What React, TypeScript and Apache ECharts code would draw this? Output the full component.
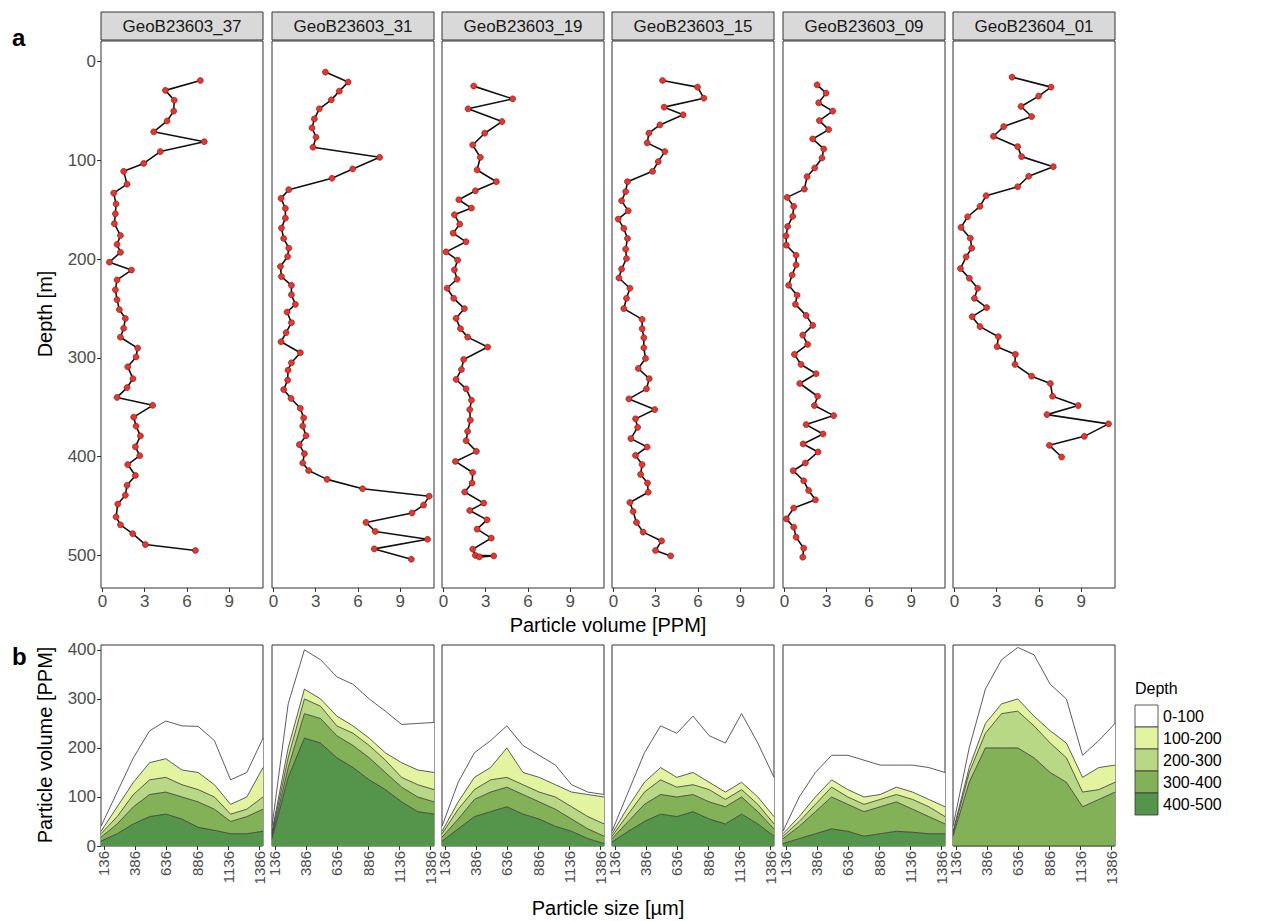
import React, { useEffect, useRef } from 'react';
import * as echarts from 'echarts';

const STATIONS = ['GeoB23603_37', 'GeoB23603_31', 'GeoB23603_19', 'GeoB23603_15', 'GeoB23603_09', 'GeoB23604_01'];
const VOLUME_TICKS = [0, 3, 6, 9];
const DEPTH_TICKS = [0, 100, 200, 300, 400, 500];
const SIZE_TICKS = [136, 386, 636, 886, 1136, 1386];
const PSD_TICKS = [0, 100, 200, 300, 400];
const DEPTH_BINS = ['0-100', '100-200', '200-300', '300-400', '400-500'];
const BIN_COLORS = ['#ffffff', '#e2f4a0', '#b9d886', '#82b157', '#55954b'];

// Profiles: depth [m] and particle volume [PPM]
const DEPTH_37 = [19,29,39,50,60,71,81,91,103,111,124,133,144,154,164,176,185,193,203,211,221,231,241,251,260,270,279,290,299,309,321,330,340,348,360,369,379,390,399,408,419,429,439,448,461,469,478,489,495];
const PPM_37 = [6.95,4.47,5.1,5.06,4.59,3.64,7.23,4.11,2.93,1.51,1.75,0.8,0.97,0.92,0.85,1.28,1.04,1.28,0.5,2.06,1.04,0.92,1.04,1.2,1.63,1.51,1.28,2.5,2.39,1.8,2.17,1.75,1.04,3.57,2.22,2.39,2.7,2.34,2.65,1.8,2.34,1.75,1.63,1.09,0.97,1.28,2.15,3.05,6.6];

const DEPTH_31 = [10.5,20.6,29.8,38.6,47.7,57.9,67,76.5,86.6,96.8,108.6,118,129.6,138.4,148.5,158.4,168.5,179,188.8,197.3,207.4,217.6,226.4,236,245.7,253.5,264.3,274.4,283.6,294.7,304.9,312.4,322.5,332,341,351,360.7,369,378.7,387.8,397,406.4,414,423,432.5,440,449,457,466.6,475.8,483.6,493.4,503.9];
const PPM_31 = [3.69,5.3,4.68,4.11,3.26,2.91,2.74,3.03,2.81,7.54,5.63,4.16,1.09,0.54,0.85,0.85,0.57,0.73,1.09,1.01,0.5,0.57,1.28,1.28,1.56,0.97,1.28,0.9,0.54,1.91,1.28,1.04,1.01,0.73,1.25,1.91,2.15,2.08,2.32,1.84,2.2,2.08,2.5,3.81,6.33,11.06,10.66,9.84,6.57,7.23,10.94,7.16,9.79];

const DEPTH_19 = [24.7,37.6,47.7,60.6,72.4,84.3,96.8,109.6,121.5,130.7,139.8,148.2,155,164.5,173.6,182.4,192.6,201,210.8,220.3,229.4,239.6,250,259.9,270.4,278.9,289,301.5,311.7,321.8,331.3,342.8,352.3,363,374.3,383.8,394.6,404.8,416,426.7,435.8,447,454.5,464,473.4,482.5,493.7,500,500.5,501.5];
const PPM_19 = [2.15,4.92,1.75,4.16,2.93,2.08,2.62,2.39,3.76,2.27,1.09,1.99,0.78,1.16,0.69,1.61,0.19,1.01,0.78,0.97,0.26,0.73,1.49,0.9,1.21,1.72,3.14,1.44,1.28,0.9,1.61,1.99,1.87,1.91,1.72,1.61,2.34,0.85,2.08,2.04,1.51,2.86,1.87,3.1,2.39,3.4,2.08,2.27,3.57,2.55];

const DEPTH_15 = [19,25.7,36.9,46,53.8,64,72.4,82.2,91,101.2,111,121.5,131.6,140.8,151,159.4,168.8,179,189.8,199.3,210,219,229.4,239.6,250,261,270.4,279.5,289.7,300.5,310.7,321,331.3,341.5,352.3,361.7,370.3,381.7,390.2,398.7,408,418,426.7,436,446.4,455.5,466.6,476.4,485.3,495,500.5];
const PPM_15 = [3.49,5.97,6.42,3.6,4.95,3.3,2.52,2.4,3.65,3.18,2.78,1.0,0.87,0.58,1.05,0.34,0.74,1.0,0.87,0.93,0.58,0.39,1.17,0.93,0.74,2.04,2.04,2.16,2.16,2.28,1.76,2.54,2.35,1.1,2.94,1.57,1.72,1.24,2.4,1.57,2.04,1.93,2.42,2.47,1.17,1.4,1.64,2.11,3.42,2.99,4.06];

const DEPTH_09 = [23.4,31.8,41.6,50,59.6,68.7,78.2,88.3,97.5,107.6,116.4,129,137.4,146.5,156.6,166.8,176.3,185.8,196,205.8,216,226.4,236.5,245.7,256.9,267,276.8,286.3,296.4,306.6,316,325.9,338.8,348.2,358.4,367.5,377,387.1,395.2,406.4,414.2,424.4,434.2,443.7,452,463,471.4,481.5,492.7,501.8];
const PPM_09 = [2.32,2.96,2.43,3.43,2.48,3.14,2.01,2.79,2.67,2.15,1.61,1.42,0.19,0.66,0.59,0.23,0.12,0.14,0.83,0.83,0.55,0.3,0.9,0.78,1.54,2.01,1.3,1.65,0.71,1.18,2.25,1.09,2.36,2.13,3.5,1.54,2.74,1.33,2.39,1.49,0.62,1.37,1.72,2.2,0.66,0.14,0.66,0.83,1.37,1.3];

const DEPTH_01 = [15.6,25.7,34.8,45.3,55.5,65.7,75.5,86,96.1,106.3,116,126.6,135.7,146.5,157,167.8,178.7,188.8,197.6,209.5,219.3,229.4,239.6,249,258.2,268.3,278.5,288.6,296.4,306.6,318.5,325.9,338.8,348.2,357.4,366.8,379.4,388.5,400.3];
const PPM_01 = [4.09,6.86,5.98,4.73,5.48,3.5,2.77,4.49,4.77,7.02,5.27,4.49,2.25,1.82,0.94,0.47,1.13,1.23,0.83,0.43,1.06,1.65,1.42,2.29,1.26,1.82,3.12,3.03,4.33,4.3,5.48,6.81,6.97,8.79,6.57,10.94,9.22,6.74,7.61];

const PROFILE_DEPTHS = [DEPTH_37, DEPTH_31, DEPTH_19, DEPTH_15, DEPTH_09, DEPTH_01];
const PROFILE_PPM = [PPM_37, PPM_31, PPM_19, PPM_15, PPM_09, PPM_01];

// Particle size distribution: size classes [µm] and volume [PPM] per depth bin (0-100 ... 400-500)
const SIZES = [112, 243, 374, 504, 635, 765, 896, 1026, 1157, 1287, 1418];

const PSD_37 = [
  [10, 30, 50, 65, 77, 90, 94, 90, 50, 50, 60],
  [5, 20, 25, 35, 38, 30, 35, 25, 20, 25, 60],
  [7, 15, 25, 30, 30, 25, 25, 25, 15, 15, 25],
  [8, 20, 35, 45, 45, 45, 52, 43, 25, 35, 45],
  [10, 25, 45, 60, 65, 55, 38, 32, 25, 25, 30],
];
const PSD_31 = [
  [10, 90, 80, 80, 80, 85, 80, 85, 78, 95, 102],
  [5, 20, 20, 15, 20, 15, 15, 15, 30, 30, 35],
  [5, 20, 30, 25, 20, 25, 25, 25, 20, 25, 25],
  [5, 20, 50, 50, 45, 45, 45, 35, 30, 30, 25],
  [15, 140, 220, 210, 180, 160, 135, 115, 90, 70, 65],
];
const PSD_19 = [
  [10, 40, 50, 55, 45, 55, 45, 40, 15, 5, 5],
  [5, 15, 25, 25, 60, 25, 30, 25, 30, 45, 55],
  [7, 20, 20, 25, 20, 20, 20, 25, 25, 25, 25],
  [8, 20, 35, 40, 40, 40, 35, 35, 25, 20, 15],
  [10, 35, 60, 70, 80, 65, 55, 40, 30, 15, 5],
];
const PSD_15 = [
  [5, 30, 60, 85, 90, 115, 95, 100, 140, 110, 80],
  [5, 15, 20, 25, 20, 25, 15, 15, 15, 15, 15],
  [5, 15, 25, 30, 20, 20, 25, 15, 15, 15, 10],
  [7, 20, 35, 40, 40, 35, 35, 35, 35, 25, 15],
  [8, 30, 50, 65, 60, 70, 55, 45, 65, 45, 20],
];
const PSD_09 = [
  [5, 40, 50, 50, 70, 75, 60, 45, 55, 65, 70],
  [5, 10, 15, 15, 15, 15, 10, 15, 15, 15, 20],
  [5, 10, 15, 20, 15, 15, 15, 15, 20, 20, 15],
  [10, 25, 45, 65, 55, 50, 55, 60, 47, 35, 20],
  [5, 15, 25, 35, 30, 20, 25, 30, 28, 25, 25],
];
const PSD_01 = [
  [10, 40, 70, 90, 105, 125, 95, 90, 45, 55, 85],
  [5, 10, 20, 20, 25, 20, 25, 30, 30, 45, 35],
  [5, 20, 30, 70, 75, 65, 60, 50, 30, 20, 20],
  [20, 130, 200, 200, 200, 180, 150, 130, 80, 95, 110],
  [0, 0, 0, 0, 0, 0, 0, 0, 0, 0, 0],
];
const PSD = [PSD_37, PSD_31, PSD_19, PSD_15, PSD_09, PSD_01];

const FONT = '"Liberation Sans", Arial, Helvetica, sans-serif';
const LEFTS = [101, 272, 442, 612, 783, 953];
const PW = 162;

export default function App() {
  const ref = useRef<HTMLDivElement>(null);
  useEffect(() => {
    if (!ref.current) return;
    const chart = echarts.init(ref.current, undefined, { renderer: 'svg' });
    const grid: any[] = [];
    const xAxis: any[] = [];
    const yAxis: any[] = [];
    const series: any[] = [];
    const graphic: any[] = [];
    const labelStyle = { fontFamily: FONT, color: '#4d4d4d' };
    const tickStyle = { lineStyle: { color: '#333', width: 1 }, length: 4 };
    const noLine = { show: false, onZero: false };
    const fmt = (v: number) => String(v);

    // top: depth profiles
    for (let i = 0; i < 6; i++) {
      grid.push({ left: LEFTS[i], top: 41, width: PW, height: 547, show: true, borderColor: '#333', borderWidth: 1, backgroundColor: '#fff' });
      xAxis.push({
        type: 'value', gridIndex: i, min: -0.1, max: 11.4, position: 'bottom',
        splitLine: { show: false }, axisLine: noLine,
        axisTick: { show: true, ...tickStyle, customValues: VOLUME_TICKS },
        axisLabel: { ...labelStyle, fontSize: 17, margin: 5, formatter: fmt, customValues: VOLUME_TICKS },
      });
      yAxis.push({
        type: 'value', gridIndex: i, inverse: true, min: -21, max: 533, position: 'left',
        splitLine: { show: false }, axisLine: noLine,
        axisTick: { show: i === 0, ...tickStyle, customValues: DEPTH_TICKS },
        axisLabel: { show: i === 0, ...labelStyle, fontSize: 17, margin: 5, formatter: fmt, customValues: DEPTH_TICKS },
      });
      series.push({
        type: 'line', xAxisIndex: i, yAxisIndex: i,
        data: PROFILE_DEPTHS[i].map((d, k) => [PROFILE_PPM[i][k], d]),
        symbol: 'circle', symbolSize: 6,
        itemStyle: { color: '#e8352e', borderColor: '#6a1a16', borderWidth: 0.6 },
        lineStyle: { color: '#111', width: 1.6 },
        z: 3,
      });
      graphic.push({ type: 'rect', shape: { x: LEFTS[i], y: 12, width: PW, height: 28 }, style: { fill: '#d9d9d9', stroke: '#333', lineWidth: 1 } });
      graphic.push({ type: 'text', x: LEFTS[i] + PW / 2, y: 26.5, style: { text: STATIONS[i], fontFamily: FONT, fontSize: 17, fill: '#1a1a1a', textAlign: 'center', textVerticalAlign: 'middle' } });
    }
    // bottom: stacked particle size distributions
    for (let i = 0; i < 6; i++) {
      const g = 6 + i;
      grid.push({ left: LEFTS[i], top: 645, width: PW, height: 201, show: true, borderColor: '#333', borderWidth: 1, backgroundColor: '#fff' });
      yAxis.push({
        type: 'value', gridIndex: g, min: 0, max: 410, position: 'left',
        splitLine: { show: false }, axisLine: noLine,
        axisTick: { show: i === 0, ...tickStyle, customValues: PSD_TICKS },
        axisLabel: { show: i === 0, ...labelStyle, fontSize: 17, margin: 5, formatter: fmt, customValues: PSD_TICKS },
      });
    }
    for (let i = 0; i < 6; i++) {
      const g = 6 + i;
      xAxis.push({
        type: 'category', gridIndex: g, data: SIZES.map(String), boundaryGap: false, position: 'bottom',
        axisLine: noLine, axisTick: { show: false }, axisLabel: { show: false }, splitLine: { show: false },
      });
    }
    for (let i = 0; i < 6; i++) {
      const g = 6 + i;
      xAxis.push({
        type: 'value', gridIndex: g, min: SIZES[0], max: SIZES[SIZES.length - 1], position: 'bottom',
        splitLine: { show: false }, axisLine: noLine,
        axisTick: { show: true, ...tickStyle, customValues: SIZE_TICKS },
        axisLabel: { ...labelStyle, fontSize: 15, margin: 5, rotate: 90, formatter: fmt, customValues: SIZE_TICKS },
      });
    }
    for (let i = 0; i < 6; i++) {
      const g = 6 + i;
      for (let b = 4; b >= 0; b--) {
        series.push({
          type: 'line', xAxisIndex: 6 + i, yAxisIndex: g, stack: 'psd' + i,
          name: DEPTH_BINS[b],
          data: PSD[i][b],
          symbol: 'none',
          lineStyle: { color: '#333', width: 0.8 },
          areaStyle: { color: BIN_COLORS[b], opacity: 1 },
          z: 2,
        });
      }
    }

    const title = (text: string, x: number, y: number, rot = 0) => ({
      type: 'text', x, y, rotation: rot,
      style: { text, fontFamily: FONT, fontSize: 20, fill: '#000', textAlign: 'center', textVerticalAlign: 'middle' },
    });
    graphic.push({ type: 'text', x: 12, y: 37, style: { text: 'a', fontFamily: FONT, fontSize: 24, fontWeight: 'bold', fill: '#000', textVerticalAlign: 'middle' } });
    graphic.push({ type: 'text', x: 12, y: 656, style: { text: 'b', fontFamily: FONT, fontSize: 24, fontWeight: 'bold', fill: '#000', textVerticalAlign: 'middle' } });
    graphic.push(title('Depth [m]', 45, 314, Math.PI / 2));
    graphic.push(title('Particle volume [PPM]', 608, 625));
    graphic.push(title('Particle volume [PPM]', 45, 745, Math.PI / 2));
    graphic.push(title('Particle size [µm]', 608, 908));
    graphic.push({ type: 'text', x: 1135, y: 688, style: { text: 'Depth', fontFamily: FONT, fontSize: 16, fill: '#000', textVerticalAlign: 'middle' } });
    DEPTH_BINS.forEach((bin, b) => {
      const y = 705 + b * 22;
      graphic.push({ type: 'rect', shape: { x: 1135, y, width: 23, height: 22 }, style: { fill: BIN_COLORS[b], stroke: '#333', lineWidth: 0.8 } });
      graphic.push({ type: 'text', x: 1163, y: y + 11, style: { text: bin, fontFamily: FONT, fontSize: 16, fill: '#000', textVerticalAlign: 'middle' } });
    });

    chart.setOption({
      animation: false,
      backgroundColor: '#fff',
      grid, xAxis, yAxis, series, graphic,
    });
    return () => chart.dispose();
  }, []);
  return <div ref={ref} style={{ position: 'fixed', left: 0, top: 0, width: 1262, height: 921 }} />;
}
